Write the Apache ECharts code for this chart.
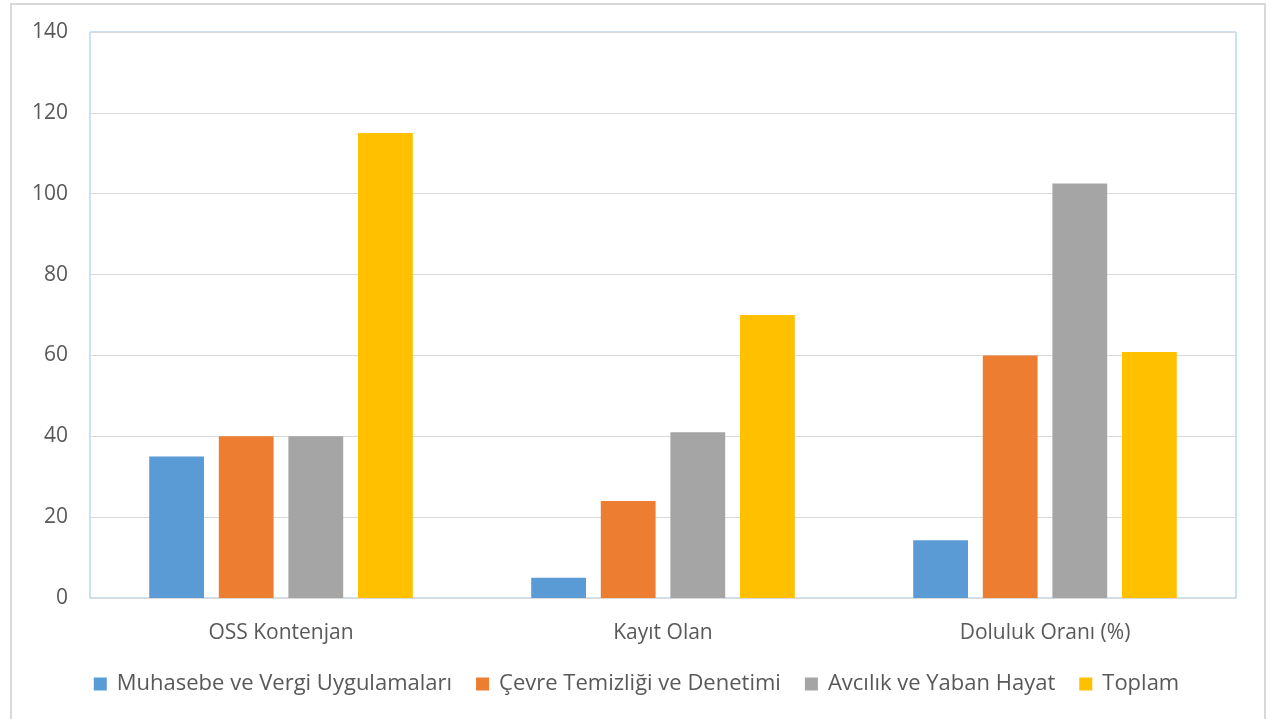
<!DOCTYPE html>
<html>
<head>
<meta charset="utf-8">
<script src="https://cdn.jsdelivr.net/npm/echarts@6/dist/echarts.min.js"></script>
<style>
  html, body { margin: 0; padding: 0; background: #fff; }
  #chart { width: 1273px; height: 719px; }
</style>
</head>
<body>
<div id="chart"></div>
<script>
(function() {
  const categories = ['OSS Kontenjan', 'Kayıt Olan', 'Doluluk Oranı (%)'];
  const seriesNames = ['Muhasebe ve Vergi Uygulamaları', 'Çevre Temizliği ve Denetimi', 'Avcılık ve Yaban Hayat', 'Toplam'];
  const muhasebe = [35, 5, 14.29];
  const cevre = [40, 24, 60];
  const avcilik = [40, 41, 102.5];
  const toplam = [115, 70, 60.87];
  const yTicks = [0, 20, 40, 60, 80, 100, 120, 140];

  const color = ['#5b9bd5', '#ed7d31', '#a5a5a5', '#ffc000'];
  const font = '"Open Sans", "Noto Sans", sans-serif';
  const values = [muhasebe, cevre, avcilik, toplam];

  const series = seriesNames.map((name, i) => ({
    name: name,
    type: 'bar',
    data: values[i],
    barGap: '27%',
    barCategoryGap: '31%',
    itemStyle: { color: color[i] },
    emphasis: { disabled: true }
  }));

  const option = {
    animation: false,
    color: color,
    grid: {
      left: 90, right: 37, top: 32, bottom: 121,
      show: true,
      borderColor: '#9dc3e6',
      borderWidth: 1
    },
    graphic: [{
      type: 'rect',
      shape: { x: 11, y: 4, width: 1254, height: 740 },
      style: { fill: 'none', stroke: '#d9d9d9', lineWidth: 2 }
    }],
    legend: {
      data: seriesNames,
      left: 'center',
      top: 668,
      itemWidth: 13,
      itemHeight: 13,
      itemGap: 24,
      icon: 'rect',
      textStyle: { fontFamily: font, fontSize: 22, color: '#595959', padding: [0, 0, 0, 5] }
    },
    xAxis: {
      type: 'category',
      data: categories,
      axisLine: { lineStyle: { color: '#d9d9d9', width: 1 } },
      axisTick: { show: false },
      axisLabel: { fontFamily: font, fontSize: 21, color: '#595959', margin: 25 }
    },
    yAxis: {
      type: 'value',
      min: yTicks[0],
      max: yTicks[yTicks.length - 1],
      interval: 20,
      axisLine: { show: false },
      axisTick: { show: false },
      splitLine: { lineStyle: { color: '#d9d9d9', width: 1 } },
      axisLabel: { fontFamily: font, fontSize: 21, color: '#595959', margin: 22 }
    },
    series: series
  };

  const chart = echarts.init(document.getElementById('chart'));
  chart.setOption(option);
}());
</script>
</body>
</html>
